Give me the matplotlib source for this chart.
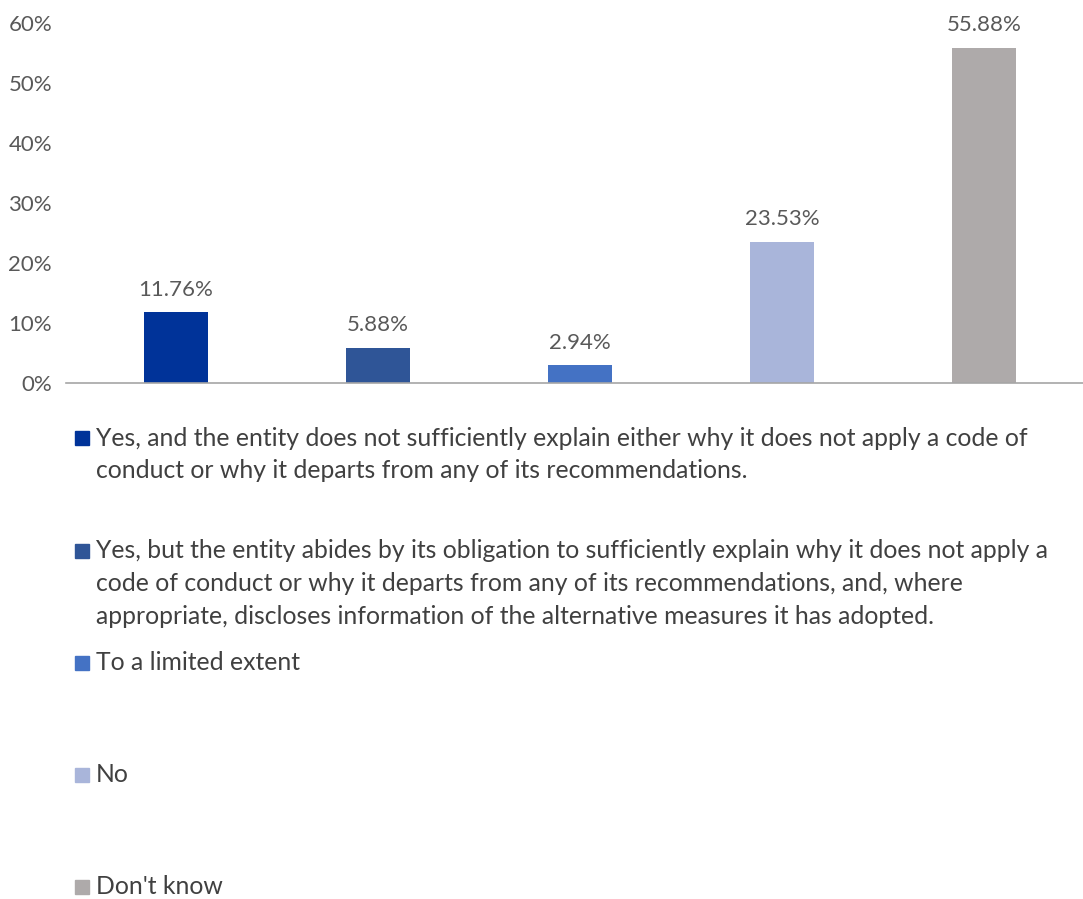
import matplotlib.pyplot as plt
from matplotlib.patches import Rectangle

plt.rcParams['font.family'] = ['Lato', 'DejaVu Sans']

# data
categories = [
    "Yes, and the entity does not sufficiently explain either why it does not apply a code of\nconduct or why it departs from any of its recommendations.",
    "Yes, but the entity abides by its obligation to sufficiently explain why it does not apply a\ncode of conduct or why it departs from any of its recommendations, and, where\nappropriate, discloses information of the alternative measures it has adopted.",
    "To a limited extent",
    "No",
    "Don't know",
]
values = [11.76, 5.88, 2.94, 23.53, 55.88]
colors = ['#003399', '#2F5597', '#4472C4', '#A9B5DA', '#AEAAAA']
# y position (px from top) of the first line of each legend entry
legend_y = [438, 551, 663, 775, 887]

W, H = 1083, 899
fig = plt.figure(figsize=(W / 100, H / 100), dpi=100)
ax = fig.add_axes([66 / W, 1 - 383 / H, 1 - 66 / W, (383 - 23) / H])

x = range(len(values))
ax.bar(x, values, width=0.315, color=colors)
for xi, v in zip(x, values):
    ax.text(xi, v + 2.1, f"{v:.2f}%", ha='center', va='bottom',
            fontsize=16, color='#595959')

ax.set_xlim(-0.545, len(values) - 0.51)
ax.set_ylim(0, 60)
ax.set_yticks(range(0, 61, 10))
ax.set_yticklabels([f"{t}%" for t in range(0, 61, 10)])
ax.tick_params(axis='y', length=0, labelsize=16, labelcolor='#595959', pad=10)
ax.set_xticks([])
for s in ['top', 'right', 'left']:
    ax.spines[s].set_visible(False)
ax.spines['bottom'].set_color('#A6A6A6')
ax.spines['bottom'].set_linewidth(1.2)

# legend drawn by hand, Excel style
line_gap = 32.5
for label, c, y in zip(categories, colors, legend_y):
    fig.add_artist(Rectangle((75 / W, 1 - (y + 7) / H), 14 / W, 14 / H,
                             transform=fig.transFigure, color=c))
    for i, line in enumerate(label.split('\n')):
        fig.text(96 / W, 1 - (y + i * line_gap) / H, line, ha='left',
                 va='center', fontsize=17.8, color='#404040')

fig.savefig('out.png', dpi=100)
